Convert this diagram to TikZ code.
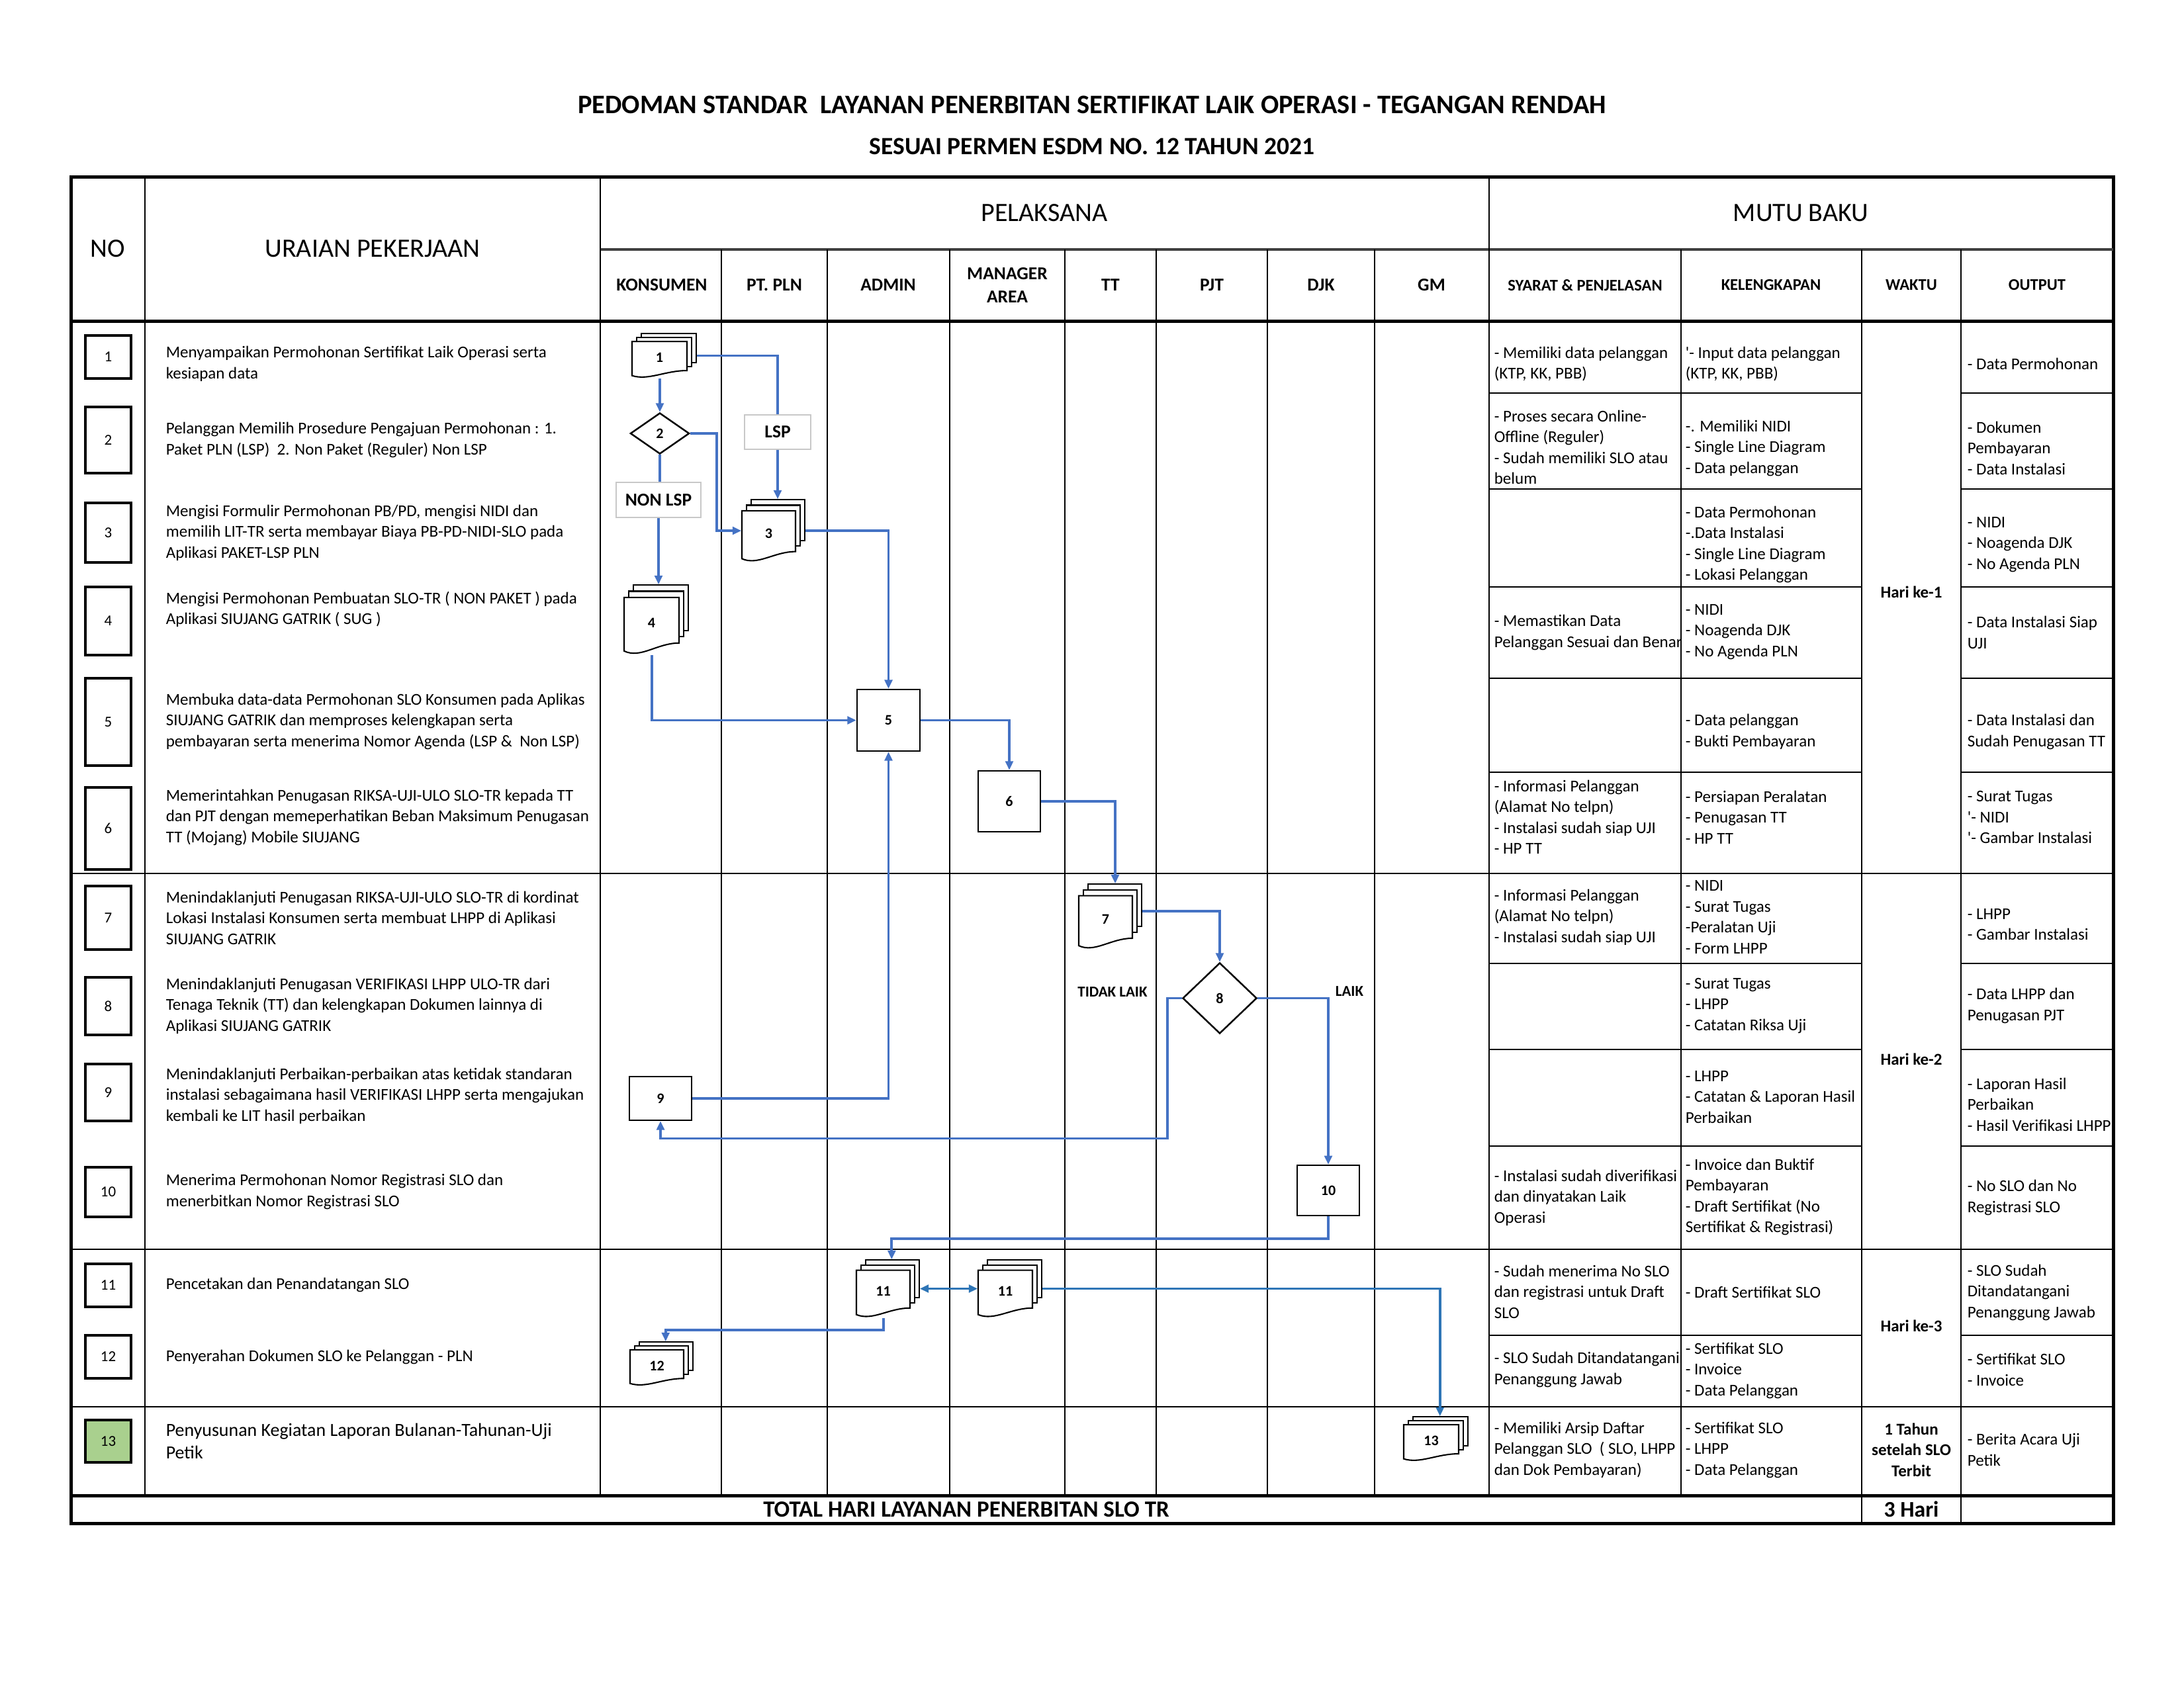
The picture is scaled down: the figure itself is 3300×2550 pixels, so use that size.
\documentclass[tikz,border=0pt]{standalone}
\usepackage{fontspec}
\setmainfont{Carlito}
\usepackage{tikz}
\usetikzlibrary{arrows.meta,shapes.geometric,fit}

\definecolor{flowblue}{RGB}{68,114,196}
\definecolor{flowteal}{RGB}{46,117,182}
\definecolor{stepgreen}{RGB}{169,208,142}
\definecolor{lblgray}{RGB}{200,200,200}

\newcommand{\fs}[2]{\fontsize{#1}{#2}\selectfont}

% stacked documents: name, left, top, width, height, label
\newcommand{\multidoc}[6]{%
  \begin{scope}[shift={(#2,#3)}]
    \pgfmathsetmacro{\mdw}{#4-14}
    \pgfmathsetmacro{\mdd}{0.09*#5}
    \pgfmathsetmacro{\mdh}{#5-2*\mdd}
    \pgfmathsetmacro{\mdr}{#5-0.2*\mdh}
    \draw[docpage] (14,0) rectangle (#4,\mdr-2*\mdd);
    \draw[docpage] (7,\mdd) rectangle (\mdw+7,\mdr-\mdd);
    \draw[docpage] (0,2*\mdd) -- (\mdw,2*\mdd) -- (\mdw,\mdr)
      .. controls (0.6*\mdw,\mdr) and (0.3*\mdw,#5+0.08*\mdh) .. (0,#5-0.06*\mdh) -- cycle;
    \node[docnum] (#1-num) at (0.5*\mdw,{2*\mdd+0.45*\mdh}) {#6};
  \end{scope}
  \node[fit={(#2,#3) ({#2+#4},{#3+#5})}, inner sep=0pt] (#1) {};}

\begin{document}
\begin{tikzpicture}[x=0.24pt, y=-0.24pt,
  rulethin/.style={line width=0.45pt},
  rulemid/.style={line width=0.7pt},
  ruleheavy/.style={line width=1.2pt},
  titletext/.style={font=\bfseries\fs{9.7}{11}},
  bighead/.style={font=\fs{9.6}{11}},
  lanehead/.style={font=\bfseries\fs{6.6}{8.5}, align=center},
  mutuhead/.style={font=\bfseries\fs{5.9}{7}},
  numbox/.style={draw, line width=0.9pt, minimum width=16.6pt, font=\fs{5.5}{6}},
  rowtext/.style={anchor=west, align=left, inner sep=0pt, font=\fs{6}{7.56}},
  cell/.style={anchor=west, align=left, inner sep=0pt, font=\fs{6}{7.56}},
  waktu/.style={font=\bfseries\fs{6}{7.56}, align=center},
  docpage/.style={draw, fill=white, line width=0.5pt},
  docnum/.style={font=\bfseries\fs{5.3}{6}},
  stepbox/.style={draw, line width=0.6pt, font=\bfseries\fs{5.3}{6}},
  decision/.style={diamond, draw, line width=0.6pt, aspect=1.4, inner sep=0pt, font=\bfseries\fs{5.3}{6}},
  choice/.style={draw=lblgray, line width=0.5pt, font=\bfseries\fs{6.6}{7}},
  branchlabel/.style={font=\bfseries\fs{5.5}{6}},
  flowline/.style={flowblue, line width=0.9pt},
  flow/.style={flowline, -{Triangle[length=3.2pt,width=2.8pt]}},
  flowboth/.style={flowteal, line width=0.9pt, {Triangle[length=3.2pt,width=2.8pt]}-{Triangle[length=3.2pt,width=2.8pt]}}
]
  \useasboundingbox (0,0) rectangle (3300,2550);

  % Title
  \node[titletext] (title) at (1650,158) {PEDOMAN STANDAR\ \ LAYANAN PENERBITAN SERTIFIKAT LAIK OPERASI - TEGANGAN RENDAH};
  \node[titletext, font=\bfseries\fs{9}{11}] (subtitle) at (1650,221) {SESUAI PERMEN ESDM NO. 12 TAHUN 2021};

  % Table rules
  \draw[ruleheavy] (107,267) rectangle (3193,2302);
  \draw[line width=0.9pt, black!75] (907,377) -- (3193,377);
  \draw[ruleheavy] (107,485) -- (3193,485);
  \draw[ruleheavy] (107,2260) -- (3193,2260);
  \foreach \x in {219,907,2250} \draw[rulemid] (\x,267) -- (\x,2260);
  \foreach \x in {1090,1250,1435,1609,1747,1915,2077,2540} \draw[rulethin] (\x,377) -- (\x,2260);
  \foreach \x in {2813,2963} \draw[rulethin] (\x,377) -- (\x,2302);
  \draw[rulemid] (107,1320) -- (3193,1320);
  \foreach \y in {1888,2126} \draw[rulethin] (107,\y) -- (3193,\y);
  \foreach \y in {594,739,887,1025,1167,1456,1586,1732,2018} {
    \draw[rulethin] (2250,\y) -- (2813,\y);
    \draw[rulethin] (2963,\y) -- (3193,\y);
  }

  % Header
  \node[bighead] (hno) at (163,376) {NO};
  \node[bighead] (hura) at (563,376) {URAIAN PEKERJAAN};
  \node[bighead] (hpel) at (1578,322) {PELAKSANA};
  \node[bighead] (hmutu) at (2721,322) {MUTU BAKU};
  \node[lanehead] (lkon) at (1000,431) {KONSUMEN};
  \node[lanehead] (lpln) at (1170,431) {PT. PLN};
  \node[lanehead] (ladm) at (1342,431) {ADMIN};
  \node[lanehead] (lman) at (1522,431) {MANAGER\\AREA};
  \node[lanehead] (ltt) at (1678,431) {TT};
  \node[lanehead] (lpjt) at (1831,431) {PJT};
  \node[lanehead] (ldjk) at (1996,431) {DJK};
  \node[lanehead] (lgm) at (2163,431) {GM};
  \node[mutuhead] (msyr) at (2395,431) {SYARAT \& PENJELASAN};
  \node[mutuhead] (mkel) at (2676,431) {KELENGKAPAN};
  \node[mutuhead] (mwkt) at (2888,431) {WAKTU};
  \node[mutuhead] (mout) at (3078,431) {OUTPUT};

  % Step numbers
  \node[numbox, minimum height=15.6pt] (b1) at (163.5,539.5) {1};
  \node[numbox, minimum height=24pt] (b2) at (163.5,665) {2};
  \node[numbox, minimum height=21.6pt] (b3) at (163.5,805) {3};
  \node[numbox, minimum height=24.7pt] (b4) at (163.5,938.5) {4};
  \node[numbox, minimum height=31.7pt] (b5) at (163.5,1091) {5};
  \node[numbox, minimum height=29.8pt] (b6) at (163.5,1252) {6};
  \node[numbox, minimum height=23pt] (b7) at (163.5,1387) {7};
  \node[numbox, minimum height=20.9pt] (b8) at (163.5,1520.5) {8};
  \node[numbox, minimum height=20.6pt] (b9) at (163.5,1651) {9};
  \node[numbox, minimum height=18pt] (b10) at (163.5,1801.5) {10};
  \node[numbox, minimum height=15.6pt] (b11) at (163.5,1942.5) {11};
  \node[numbox, minimum height=15.6pt] (b12) at (163.5,2050.5) {12};
  \node[numbox, minimum height=15.4pt, fill=stepgreen] (b13) at (163.5,2178) {13};

  % Job descriptions
  \node[rowtext] (t1) at (250,550) {Menyampaikan Permohonan Sertifikat Laik Operasi serta\\kesiapan data};
  \node[rowtext] (t2) at (250,665) {Pelanggan Memilih Prosedure Pengajuan Permohonan : 1.\\Paket PLN (LSP)\ \ 2. Non Paket (Reguler) Non LSP};
  \node[rowtext] (t3) at (250,805) {Mengisi Formulir Permohonan PB/PD, mengisi NIDI dan\\memilih LIT-TR serta membayar Biaya PB-PD-NIDI-SLO pada\\Aplikasi PAKET-LSP PLN};
  \node[rowtext] (t4) at (250,921) {Mengisi Permohonan Pembuatan SLO-TR ( NON PAKET ) pada\\Aplikasi SIUJANG GATRIK ( SUG )};
  \node[rowtext] (t5) at (250,1090) {Membuka data-data Permohonan SLO Konsumen pada Aplikas\\SIUJANG GATRIK dan memproses kelengkapan serta\\pembayaran serta menerima Nomor Agenda (LSP \&\ \ Non LSP)};
  \node[rowtext] (t6) at (250,1235) {Memerintahkan Penugasan RIKSA-UJI-ULO SLO-TR kepada TT\\dan PJT dengan memeperhatikan Beban Maksimum Penugasan\\TT (Mojang) Mobile SIUJANG};
  \node[rowtext] (t7) at (250,1387) {Menindaklanjuti Penugasan RIKSA-UJI-ULO SLO-TR di kordinat\\Lokasi Instalasi Konsumen serta membuat LHPP di Aplikasi\\SIUJANG GATRIK};
  \node[rowtext] (t8) at (250,1520) {Menindaklanjuti Penugasan VERIFIKASI LHPP ULO-TR dari\\Tenaga Teknik (TT) dan kelengkapan Dokumen lainnya di\\Aplikasi SIUJANG GATRIK};
  \node[rowtext] (t9) at (250,1656) {Menindaklanjuti Perbaikan-perbaikan atas ketidak standaran\\instalasi sebagaimana hasil VERIFIKASI LHPP serta mengajukan\\kembali ke LIT hasil perbaikan};
  \node[rowtext] (t10) at (250,1801) {Menerima Permohonan Nomor Registrasi SLO dan\\menerbitkan Nomor Registrasi SLO};
  \node[rowtext] (t11) at (250,1942) {Pencetakan dan Penandatangan SLO};
  \node[rowtext] (t12) at (250,2051) {Penyerahan Dokumen SLO ke Pelanggan - PLN};
  \node[rowtext, font=\fs{6.7}{8.2}] (t13) at (250,2178) {Penyusunan Kegiatan Laporan Bulanan-Tahunan-Uji\\Petik};

  % Flow nodes
  \multidoc{n1}{955}{504}{97}{67}{1}
  \node[decision, minimum width=21.4pt, minimum height=14.9pt] (d2) at (997,655) {2};
  \node[choice, minimum width=24pt, minimum height=12.5pt] (lsp) at (1175,653) {LSP};
  \node[choice, minimum width=30.5pt, minimum height=12.7pt] (nonlsp) at (995,755.5) {NON LSP};
  \multidoc{n3}{1121}{755}{95}{94}{3}
  \multidoc{n4}{943}{884}{97}{105}{4}
  \node[stepbox, minimum width=22.8pt, minimum height=22.3pt] (n5) at (1342.5,1088.5) {5};
  \node[stepbox, minimum width=22.6pt, minimum height=22.1pt] (n6) at (1525,1211) {6};
  \multidoc{n7}{1630}{1336}{95}{98}{7}
  \node[decision, minimum width=26.9pt, minimum height=25.7pt] (d8) at (1843,1508.5) {8};
  \node[stepbox, minimum width=22.6pt, minimum height=15.8pt] (n9) at (998,1660) {9};
  \node[stepbox, minimum width=22.6pt, minimum height=18.2pt] (n10) at (2007,1799) {10};
  \multidoc{n11a}{1294}{1904}{95}{87}{11}
  \multidoc{n11b}{1478}{1904}{96}{87}{11}
  \multidoc{n12}{952}{2028}{95}{66}{12}
  \multidoc{n13}{2121}{2141}{97}{67}{13}
  \node[branchlabel] (tidak) at (1681,1499) {TIDAK LAIK};
  \node[branchlabel] (laik) at (2039,1498) {LAIK};

  % Connectors
  \draw[flowline] (n1.east) -| (lsp.north);
  \draw[flow] (lsp.south) -- (lsp.south |- n3.north);
  \draw[flow] (d2.north |- n1.south) -- (d2.north);
  \draw[flow] (d2.east) -- ++(40,0) |- (n3.west);
  \draw[flowline] (d2.south) -- (d2.south |- nonlsp.north);
  \draw[flow] (nonlsp.south) -- (nonlsp.south |- n4.north);
  \draw[flow] ([xshift=-1.5pt]n4.south) |- (n5.west);
  \draw[flow] (n3.east) -| (n5.north);
  \draw[flow] (n5.east) -| (n6.north);
  \draw[flow] (n6.east) -| ([xshift=1.8pt]n7.north);
  \draw[flow] ([yshift=2pt]n7.east) -| (d8.north);
  \draw[flow] (d8.east) -| (n10.north);
  \draw[flow] (d8.west) -- ++(-22,0) -- ++(0,212) -| (n9.south);
  \draw[flow] (n9.east) -| (n5.south);
  \draw[flow] (n10.south) -- ++(0,34) -| ([xshift=1.4pt]n11a.north);
  \draw[flowboth] (n11a.east) -- (n11b.west);
  \draw[flow, flowteal] (n11b.east) -| ([xshift=1.5pt]n13.north);
  \draw[flow] ([xshift=-1.5pt]n11a.south) -- ++(0,18) -| ([xshift=1.5pt]n12.north);

  % Syarat & penjelasan
  \node[cell] (s1) at (2257,550) {- Memiliki data pelanggan\\(KTP, KK, PBB)};
  \node[cell] (s2) at (2257,676) {- Proses secara Online-\\Offline (Reguler)\\- Sudah memiliki SLO atau\\belum};
  \node[cell] (s4) at (2257,956) {- Memastikan Data\\Pelanggan Sesuai dan Benar};
  \node[cell] (s6) at (2257,1235) {- Informasi Pelanggan\\(Alamat No telpn)\\- Instalasi sudah siap UJI\\- HP TT};
  \node[cell] (s7) at (2257,1386) {- Informasi Pelanggan\\(Alamat No telpn)\\- Instalasi sudah siap UJI};
  \node[cell] (s10) at (2257,1810) {- Instalasi sudah diverifikasi\\dan dinyatakan Laik\\Operasi};
  \node[cell] (s11) at (2257,1952) {- Sudah menerima No SLO\\dan registrasi untuk Draft\\SLO};
  \node[cell] (s12) at (2257,2070) {- SLO Sudah Ditandatangani\\Penanggung Jawab};
  \node[cell] (s13) at (2257,2191) {- Memiliki Arsip Daftar\\Pelanggan SLO\ \ ( SLO, LHPP\\dan Dok Pembayaran)};

  % Kelengkapan
  \node[cell] (k1) at (2546,550) {\textquotesingle- Input data pelanggan\\(KTP, KK, PBB)};
  \node[cell] (k2) at (2546,677) {-. Memiliki NIDI\\- Single Line Diagram\\- Data pelanggan};
  \node[cell] (k3) at (2546,823) {- Data Permohonan\\-.Data Instalasi\\- Single Line Diagram\\- Lokasi Pelanggan};
  \node[cell] (k4) at (2546,955) {- NIDI\\- Noagenda DJK\\- No Agenda PLN};
  \node[cell] (k5) at (2546,1106) {- Data pelanggan\\- Bukti Pembayaran};
  \node[cell] (k6) at (2546,1235) {- Persiapan Peralatan\\- Penugasan TT\\- HP TT};
  \node[cell] (k7) at (2546,1386) {- NIDI\\- Surat Tugas\\-Peralatan Uji\\- Form LHPP};
  \node[cell] (k8) at (2546,1520) {- Surat Tugas\\- LHPP\\- Catatan Riksa Uji};
  \node[cell] (k9) at (2546,1658) {- LHPP\\- Catatan \& Laporan Hasil\\Perbaikan};
  \node[cell] (k10) at (2546,1809) {- Invoice dan Buktif\\Pembayaran\\- Draft Sertifikat (No\\Sertifikat \& Registrasi)};
  \node[cell] (k11) at (2546,1953) {- Draft Sertifikat SLO};
  \node[cell] (k12) at (2546,2071) {- Sertifikat SLO\\- Invoice\\- Data Pelanggan};
  \node[cell] (k13) at (2546,2191) {- Sertifikat SLO\\- LHPP\\- Data Pelanggan};

  % Waktu
  \node[waktu] (w1) at (2888,895) {Hari ke-1};
  \node[waktu] (w2) at (2888,1601) {Hari ke-2};
  \node[waktu] (w3) at (2888,2004) {Hari ke-3};
  \node[waktu] (w4) at (2888,2191) {1 Tahun\\setelah SLO\\Terbit};

  % Output
  \node[cell] (o1) at (2972,550) {- Data Permohonan};
  \node[cell] (o2) at (2972,677) {- Dokumen\\Pembayaran\\- Data Instalasi};
  \node[cell] (o3) at (2972,823) {- NIDI\\- Noagenda DJK\\- No Agenda PLN};
  \node[cell] (o4) at (2972,956) {- Data Instalasi Siap\\UJI};
  \node[cell] (o5) at (2972,1106) {- Data Instalasi dan\\Sudah Penugasan TT};
  \node[cell] (o6) at (2972,1235) {- Surat Tugas\\\textquotesingle- NIDI\\\textquotesingle- Gambar Instalasi};
  \node[cell] (o7) at (2972,1397) {- LHPP\\- Gambar Instalasi};
  \node[cell] (o8) at (2972,1520) {- Data LHPP dan\\Penugasan PJT};
  \node[cell] (o9) at (2972,1669) {- Laporan Hasil\\Perbaikan\\- Hasil Verifikasi LHPP};
  \node[cell] (o10) at (2972,1810) {- No SLO dan No\\Registrasi SLO};
  \node[cell] (o11) at (2972,1953) {- SLO Sudah\\Ditandatangani\\Penanggung Jawab};
  \node[cell] (o12) at (2972,2070) {- Sertifikat SLO\\- Invoice};
  \node[cell] (o13) at (2972,2191) {- Berita Acara Uji\\Petik};

  % Total
  \node[font=\bfseries\fs{8.4}{9}] (total) at (1460,2281) {TOTAL HARI LAYANAN PENERBITAN SLO TR};
  \node[font=\bfseries\fs{8.1}{9}] (days) at (2888,2281) {3 Hari};
\end{tikzpicture}
\end{document}
